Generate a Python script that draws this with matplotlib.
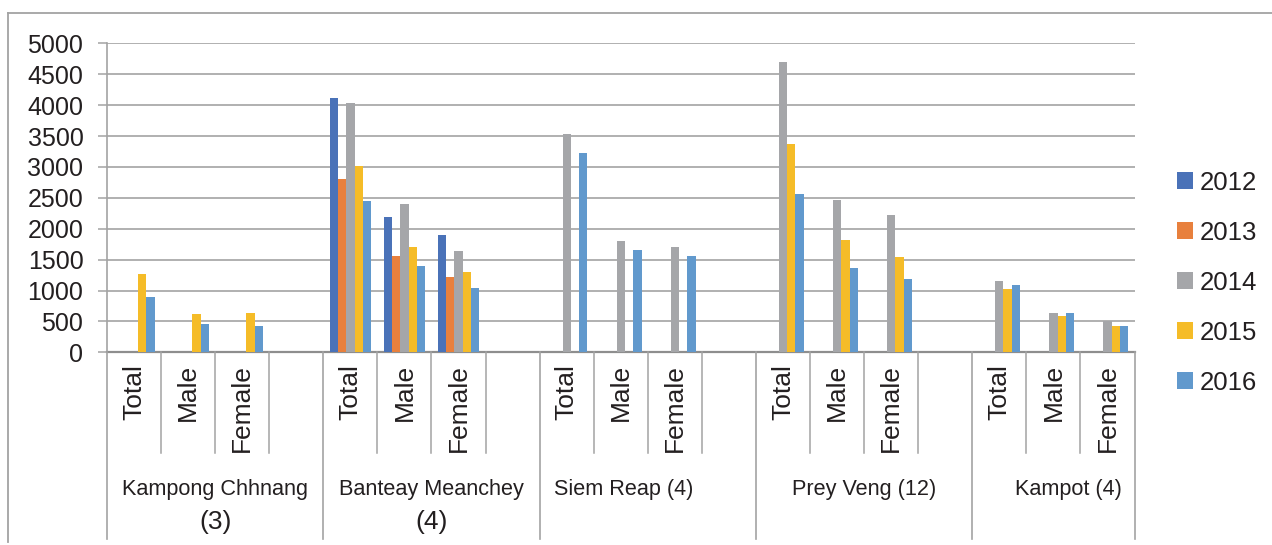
import numpy as np
import matplotlib
matplotlib.use("Agg")
import matplotlib.pyplot as plt
from matplotlib.lines import Line2D
from matplotlib.transforms import blended_transform_factory

plt.rcParams['font.family'] = ['Liberation Sans', 'DejaVu Sans']

# ---- data -------------------------------------------------------------
provinces = ["Kampong Chhnang", "Banteay Meanchey", "Siem Reap", "Prey Veng", "Kampot"]
counts = [3, 4, 4, 12, 4]
subgroups = ["Total", "Male", "Female"]
years = ["2012", "2013", "2014", "2015", "2016"]
nan = np.nan
# one value per province x subgroup (Total, Male, Female), province by province
v2012 = [nan, nan, nan, 4110, 2195, 1905, nan, nan, nan, nan, nan, nan, nan, nan, nan]
v2013 = [nan, nan, nan, 2800, 1565, 1220, nan, nan, nan, nan, nan, nan, nan, nan, nan]
v2014 = [nan, nan, nan, 4040, 2395, 1635, 3530, 1805, 1710, 4700, 2465, 2220, 1160, 630, 505]
v2015 = [1270, 620, 630, 3015, 1705, 1295, nan, nan, nan, 3370, 1815, 1540, 1025, 590, 425]
v2016 = [890, 460, 425, 2445, 1390, 1035, 3230, 1660, 1560, 2555, 1370, 1180, 1085, 640, 425]
series = [v2012, v2013, v2014, v2015, v2016]

# ---- style ------------------------------------------------------------
colors = ['#4A72B8', '#E8803D', '#A5A6A9', '#F5BC28', '#6199CD']
text_color = '#231F20'
line_color = '#A3A3A3'
W, H = 1272, 545

fig = plt.figure(figsize=(W / 100, H / 100), dpi=100)
ax_left, ax_right, ax_top, ax_bottom = 107, 1134.5, 43.3, 352.3
ax = fig.add_axes([ax_left / W, (H - ax_bottom) / H,
                   (ax_right - ax_left) / W, (ax_bottom - ax_top) / H])

# each province takes three slots followed by an empty slot (none after the last)
slot_step = len(subgroups) + 1
n_slots = slot_step * len(provinces) - 1
xpos = np.array([i * slot_step + j for i in range(len(provinces))
                 for j in range(len(subgroups))], dtype=float)

bar_w = 0.1535
handles = []
for k, (vals, col, yr) in enumerate(zip(series, colors, years)):
    b = ax.bar(xpos + (k - 2) * bar_w, np.array(vals, dtype=float), width=bar_w,
               color=col, label=yr, zorder=3)
    handles.append(b)

ax.set_xlim(-0.5, n_slots - 0.5)
ax.set_ylim(0, 5000)
ax.set_yticks(np.arange(0, 5001, 500))
ax.yaxis.grid(True, color='#9B9B9B', lw=1.1)
ax.set_axisbelow(True)
for s in ['top', 'right']:
    ax.spines[s].set_visible(False)
ax.spines['left'].set_color(line_color)
ax.spines['left'].set_linewidth(1.2)
ax.spines['bottom'].set_color('#8E8E8E')
ax.spines['bottom'].set_linewidth(1.6)
ax.tick_params(axis='y', length=6.5, width=1.1, color=line_color, pad=10.5,
               labelsize=18, labelcolor=text_color)
ax.tick_params(axis='x', bottom=False, labelbottom=False)

# ---- multi-level category axis ---------------------------------------
tr = blended_transform_factory(ax.transData, fig.transFigure)
y_axis = (H - ax_bottom) / H
y_short = (H - 452.7) / H
y_long = (H - 539) / H
group_edges = [-0.5] + [i * slot_step + slot_step - 0.5 for i in range(len(provinces) - 1)] + [n_slots - 0.5]
for e in np.arange(0.5, n_slots - 0.5, 1.0):
    if e in group_edges:
        continue
    fig.add_artist(Line2D([e, e], [y_axis, y_short], transform=tr,
                          color=line_color, lw=1.1))
for e in group_edges:
    fig.add_artist(Line2D([e, e], [y_axis, y_long], transform=tr,
                          color=line_color, lw=1.2))

y_sub_top = (H - 364) / H
for x, lab in zip(xpos, subgroups * len(provinces)):
    ax.text(x, y_sub_top, lab, transform=tr, rotation=90, ha='center', va='top',
            fontsize=19, color=text_color)

# province labels: the first two wrap their count onto a second line
wrap = [True, True, False, False, False]
label_shift_px = [0, 0, -24, 0, 15]
y_line1 = (H - 489) / H
y_line2 = (H - 521.5) / H
px_per_slot = (ax_right - ax_left) / n_slots
for i, (name, c) in enumerate(zip(provinces, counts)):
    centre = (group_edges[i] + group_edges[i + 1]) / 2 + label_shift_px[i] / px_per_slot
    if wrap[i]:
        ax.text(centre, y_line1, name, transform=tr, ha='center', va='center',
                fontsize=15.6, color=text_color)
        ax.text(centre, y_line2, f"({c})", transform=tr, ha='center', va='center',
                fontsize=19, color=text_color)
    else:
        ax.text(centre, y_line1, f"{name} ({c})", transform=tr, ha='center',
                va='center', fontsize=15.6, color=text_color)

# ---- legend -----------------------------------------------------------
fig.legend(handles, years, loc='center left',
           bbox_to_anchor=(1177 / W, (H - 282.6) / H), frameon=False,
           fontsize=18.5, handlelength=0.62, handleheight=0.62,
           handletextpad=0.25, labelspacing=1.01, borderpad=0, borderaxespad=0,
           labelcolor=text_color)

# ---- chart frame ------------------------------------------------------
fig.add_artist(Line2D([8 / W, 1.0], [(H - 13) / H, (H - 13) / H],
                      transform=fig.transFigure, color=line_color, lw=1.3))
fig.add_artist(Line2D([8 / W, 8 / W], [(H - 13) / H, (H - 542) / H],
                      transform=fig.transFigure, color=line_color, lw=1.3))

fig.savefig('out.png', dpi=100, facecolor='white')
